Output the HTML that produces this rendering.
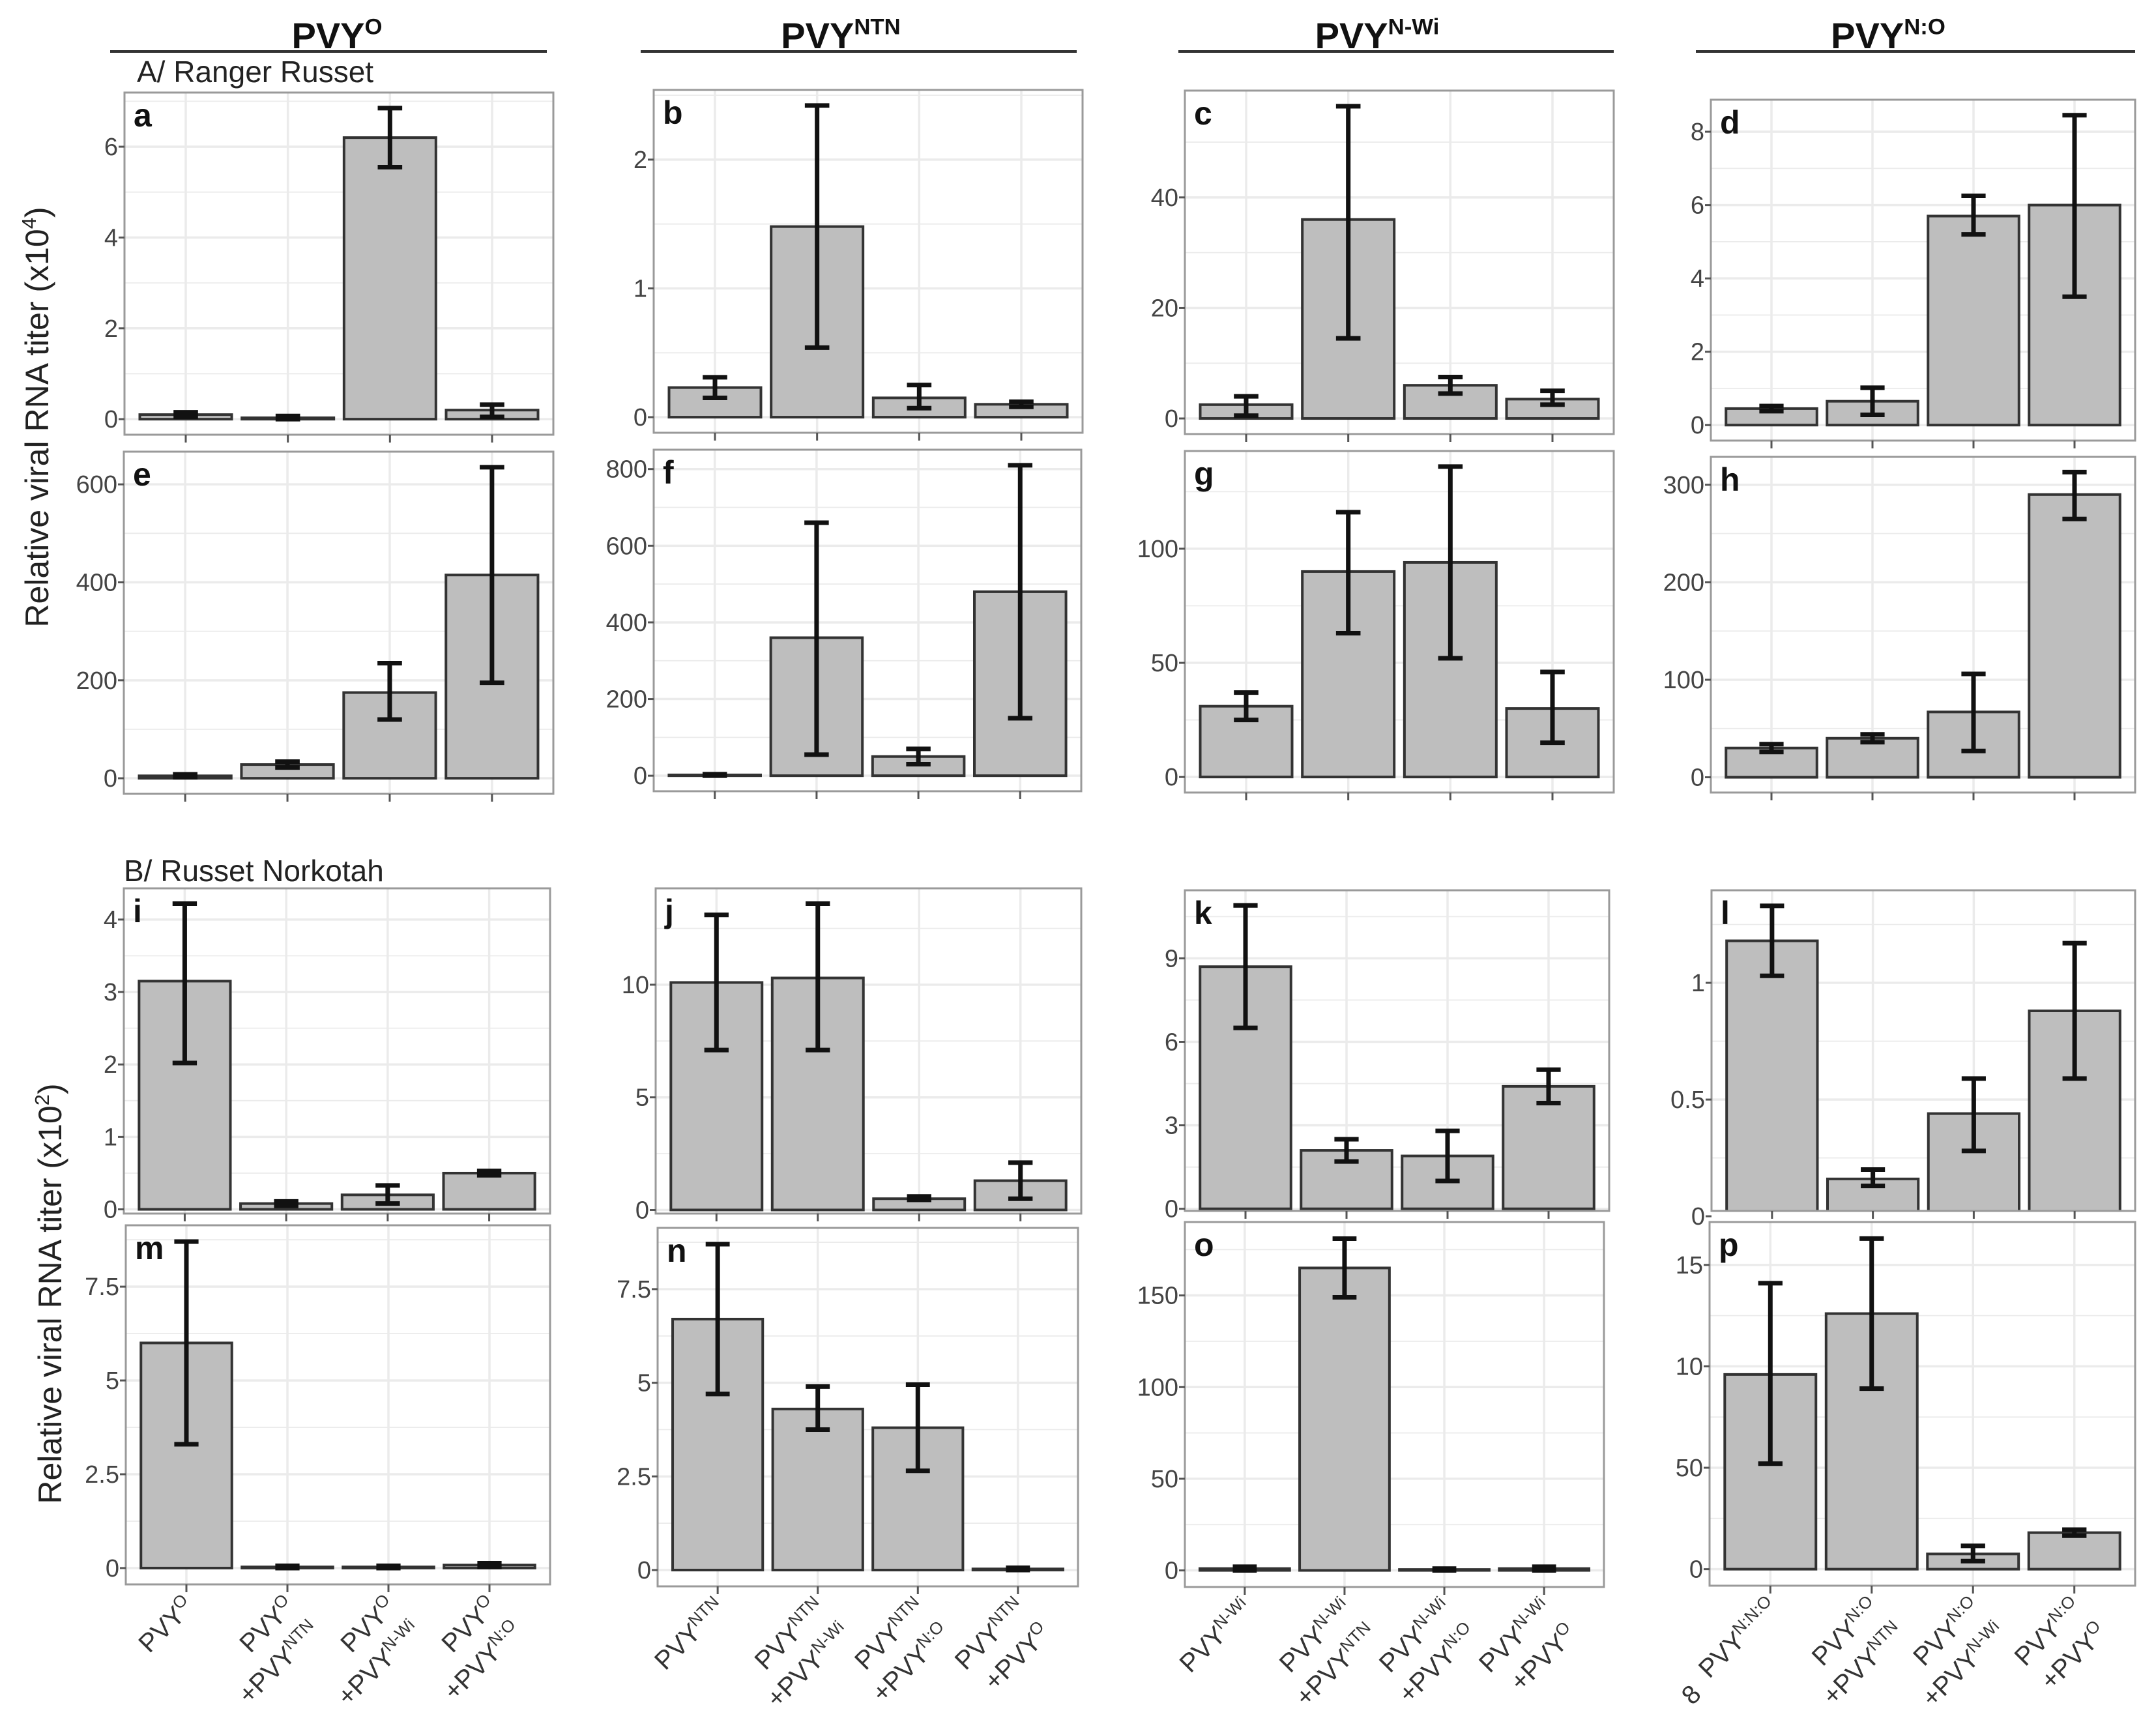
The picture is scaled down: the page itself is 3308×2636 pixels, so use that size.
<!DOCTYPE html>
<html><head><meta charset="utf-8"><style>
html,body{margin:0;padding:0;background:#fff;}
svg{display:block;font-family:"Liberation Sans",sans-serif;}
</style></head><body>
<svg id="fig" width="3308" height="2636" viewBox="0 0 3308 2636" xmlns="http://www.w3.org/2000/svg"></svg>
<script>
// ---- data ----
const aMeans=[0.1,0.03,6.2,0.2];   const aLow=[0.05,0,5.55,0.05];   const aHigh=[0.15,0.07,6.85,0.32];
const bMeans=[0.23,1.48,0.15,0.1]; const bLow=[0.15,0.54,0.07,0.08]; const bHigh=[0.31,2.42,0.25,0.12];
const cMeans=[2.5,36,6,3.5];       const cLow=[0.5,14.5,4.5,2.5];    const cHigh=[4,56.5,7.5,5];
const dMeans=[0.45,0.65,5.7,6.0];  const dLow=[0.38,0.28,5.2,3.5];   const dHigh=[0.52,1.02,6.25,8.45];
const eMeans=[5,28,175,415];       const eLow=[2,22,120,195];        const eHigh=[8,34,235,635];
const fMeans=[2,360,50,480];       const fLow=[0,55,30,150];         const fHigh=[4,660,70,810];
const gMeans=[31,90,94,30];        const gLow=[25,63,52,15];         const gHigh=[37,116,136,46];
const hMeans=[30,40,67,290];       const hLow=[26,36,27,265];        const hHigh=[34,44,106,313];
const iMeans=[3.15,0.08,0.2,0.5];  const iLow=[2.02,0.05,0.08,0.47]; const iHigh=[4.22,0.11,0.33,0.53];
const jMeans=[10.1,10.3,0.5,1.3];  const jLow=[7.1,7.1,0.45,0.5];    const jHigh=[13.1,13.6,0.6,2.1];
const kMeans=[8.7,2.1,1.9,4.4];    const kLow=[6.5,1.7,1.0,3.8];     const kHigh=[10.9,2.5,2.8,5.0];
const lMeans=[1.18,0.16,0.44,0.88];const lLow=[1.03,0.13,0.28,0.59]; const lHigh=[1.33,0.2,0.59,1.17];
const mMeans=[6.0,0.03,0.03,0.08]; const mLow=[3.3,0,0,0.03];        const mHigh=[8.7,0.06,0.06,0.13];
const nMeans=[6.7,4.3,3.8,0.03];   const nLow=[4.7,3.75,2.65,0];     const nHigh=[8.7,4.9,4.95,0.06];
const oMeans=[1,165,0.5,1];        const oLow=[0,149,0,0];           const oHigh=[2,181,1,2];
const pMeans=[96,126,7.5,18];      const pLow=[52,89,4,16.5];        const pHigh=[141,163,11.5,19.5];

const aTicks=[0,2,4,6];      const bTicks=[0,1,2];        const cTicks=[0,20,40];       const dTicks=[0,2,4,6,8];
const eTicks=[0,200,400,600];const fTicks=[0,200,400,600,800]; const gTicks=[0,50,100]; const hTicks=[0,100,200,300];
const iTicks=[0,1,2,3,4];    const jTicks=[0,5,10];       const kTicks=[0,3,6,9];       const lTicks=[0,0.5,1];
const mTicks=[0,2.5,5,7.5];  const nTicks=[0,2.5,5,7.5];  const oTicks=[0,50,100,150];  const pTicks=[0,50,100,150];
const pTickLabels=["0","50","10","15"];

const colTitles=[["PVY","O"],["PVY","NTN"],["PVY","N-Wi"],["PVY","N:O"]];
const xCats=[
 [[["PVY","O"]],[["PVY","O"],["+PVY","NTN"]],[["PVY","O"],["+PVY","N-Wi"]],[["PVY","O"],["+PVY","N:O"]]],
 [[["PVY","NTN"]],[["PVY","NTN"],["+PVY","N-Wi"]],[["PVY","NTN"],["+PVY","N:O"]],[["PVY","NTN"],["+PVY","O"]]],
 [[["PVY","N-Wi"]],[["PVY","N-Wi"],["+PVY","NTN"]],[["PVY","N-Wi"],["+PVY","N:O"]],[["PVY","N-Wi"],["+PVY","O"]]],
 [[["PVY","N:N:O"]],[["PVY","N:O"],["+PVY","NTN"]],[["PVY","N:O"],["+PVY","N-Wi"]],[["PVY","N:O"],["+PVY","O"]]]
];

// ---- layout (pixel positions) ----
const layout={
 a:[191,142,849,667],b:[1003,138,1661,664],c:[1818,139,2476,666],d:[2625,153,3276,676],
 e:[190,693,849,1218],f:[1003,690,1659,1214],g:[1818,692,2476,1216],h:[2625,701,3276,1216],
 i:[190,1363,844,1862,1879],j:[1006,1363,1659,1862,1880],k:[1818,1366,2469,1858,1878],l:[2626,1366,3276,1858,1890],
 m:[193,1880,844,2431],n:[1009,1884,1654,2434],o:[1818,1875,2461,2435],p:[2623,1875,3276,2433]
};
const panelData={a:[aMeans,aLow,aHigh,aTicks],b:[bMeans,bLow,bHigh,bTicks],c:[cMeans,cLow,cHigh,cTicks],d:[dMeans,dLow,dHigh,dTicks],
 e:[eMeans,eLow,eHigh,eTicks],f:[fMeans,fLow,fHigh,fTicks],g:[gMeans,gLow,gHigh,gTicks],h:[hMeans,hLow,hHigh,hTicks],
 i:[iMeans,iLow,iHigh,iTicks],j:[jMeans,jLow,jHigh,jTicks],k:[kMeans,kLow,kHigh,kTicks],l:[lMeans,lLow,lHigh,lTicks],
 m:[mMeans,mLow,mHigh,mTicks],n:[nMeans,nLow,nHigh,nTicks],o:[oMeans,oLow,oHigh,oTicks],p:[pMeans,pLow,pHigh,pTicks]};

const NS="http://www.w3.org/2000/svg";
const svg=document.getElementById('fig');
function mk(tag,attrs,parent){const e=document.createElementNS(NS,tag);for(const k in attrs)e.setAttribute(k,attrs[k]);(parent||svg).appendChild(e);return e;}
function supText(t,parts,size){
  const b=document.createElementNS(NS,'tspan');b.textContent=parts[0];t.appendChild(b);
  const s=document.createElementNS(NS,'tspan');s.setAttribute('font-size',size*0.62);s.setAttribute('dy',-size*0.38);s.textContent=parts[1];t.appendChild(s);
}

const titleCenters=[517,1290,2113,2897]; const lineSpans=[[169,839],[983,1652],[1808,2476],[2602,3276]];
colTitles.forEach((ct,i)=>{
  const ln=mk('line',{x1:lineSpans[i][0],x2:lineSpans[i][1],y1:79,y2:79,stroke:'#333','stroke-width':4});
  
  
  const t=mk('text',{x:titleCenters[i],y:74,'text-anchor':'middle','font-size':56,'font-weight':'bold',fill:'#111'});
  
  
  supText(t,ct,56);
});
let t=mk('text',{x:210,y:126,'font-size':46,fill:'#222'});t.textContent='A/ Ranger Russet';


t=mk('text',{x:190,y:1352,'font-size':46,fill:'#222'});t.textContent='B/ Russet Norkotah';


t=mk('text',{x:0,y:0,'font-size':50,fill:'#222','text-anchor':'middle',transform:'translate(74,640) rotate(-90)'});


supText(t,['Relative viral RNA titer (x10','4'],50);
{const s=document.createElementNS(NS,'tspan');s.setAttribute('dy',19);s.textContent=')';t.appendChild(s);}
t=mk('text',{x:0,y:0,'font-size':50,fill:'#222','text-anchor':'middle',transform:'translate(94,1985) rotate(-90)'});


supText(t,['Relative viral RNA titer (x10','2'],50);
{const s=document.createElementNS(NS,'tspan');s.setAttribute('dy',19);s.textContent=')';t.appendChild(s);}

const letters=Object.keys(layout);
letters.forEach((L)=>{
  const [x0,y0,x1,y1,vb]=layout[L]; const vbot=vb||y1;
  const [means,low,high,ticks]=panelData[L];
  const M=Math.max(...high); const hi=1.05*M, lo=-0.05*M;
  const ys=v=>vbot-(v-lo)/(hi-lo)*(vbot-y0);
  const bw=(x1-x0)/4.2; const xs=i=>x0+(i+0.6)*bw;
  const g=mk('g',{});
  
  
  const cid='clip'+L;
  const cp=mk('clipPath',{id:cid},g);mk('rect',{x:x0,y:y0,width:x1-x0,height:y1-y0},cp);
  const inner=mk('g',{'clip-path':'url(#'+cid+')'},g);
  const step=ticks[1]-ticks[0];
  for(let v=ticks[0]-step/2;v<=hi+step;v+=step/2){
    const major=ticks.some(tk=>Math.abs(tk-v)<1e-9);
    const gl=mk('line',{x1:x0,x2:x1,y1:ys(v),y2:ys(v),stroke:'#ebebeb','stroke-width':major?3.5:1.8},inner);
    
    
  }
  for(let i=0;i<4;i++){mk('line',{x1:xs(i),x2:xs(i),y1:y0,y2:y1,stroke:'#ebebeb','stroke-width':3.5},inner);}
  means.forEach((v,i)=>{
    const r=mk('rect',{x:xs(i)-0.45*bw,y:Math.min(ys(v),ys(0)),width:0.9*bw,height:Math.abs(ys(0)-ys(v)),fill:'#bebebe',stroke:'#333','stroke-width':4},inner);
    
    
  });
  means.forEach((v,i)=>{
    const cx=xs(i),cw=0.12*bw;
    const eb=mk('path',{d:`M${cx},${ys(low[i])}V${ys(high[i])}M${cx-cw},${ys(low[i])}H${cx+cw}M${cx-cw},${ys(high[i])}H${cx+cw}`,stroke:'#111','stroke-width':7,fill:'none'},inner);
    
    
  });
  const bd=mk('rect',{x:x0,y:y0,width:x1-x0,height:y1-y0,fill:'none',stroke:'#9a9a9a','stroke-width':3},g);
  
  
  ticks.forEach((v,ti)=>{
    const y=ys(v); if(y>y1+12)return;
    mk('line',{x1:x0-9,x2:x0,y1:y,y2:y,stroke:'#555','stroke-width':3},g);
    const tl=mk('text',{x:x0-10,y:y+13,'text-anchor':'end','font-size':38,fill:'#444'},g);
    tl.textContent=(L==='p')?pTickLabels[ti]:String(v);
    
    
  });
  for(let i=0;i<4;i++) mk('line',{x1:xs(i),x2:xs(i),y1:y1,y2:y1+12,stroke:'#555','stroke-width':3},g);
  const lt=mk('text',{x:x0+14,y:y0+52,'font-size':50,'font-weight':'bold',fill:'#111'},g);
  lt.textContent=L;
  
  
  if('mnop'.includes(L)){
    const col='mnop'.indexOf(L);
    xCats[col].forEach((lines,i)=>{
      const ax=xs(i)+14, ay=y1+36;
      const tx=mk('text',{x:0,y:0,'text-anchor':'end','font-size':40,fill:'#333',transform:`translate(${ax},${ay}) rotate(-45)`},g);
      
      
      lines.forEach((ln,k)=>{
        const b=document.createElementNS(NS,'tspan');b.setAttribute('x',0);b.setAttribute('dy',k===0?0:54);b.textContent=ln[0];tx.appendChild(b);
        const s=document.createElementNS(NS,'tspan');s.setAttribute('font-size',26);s.setAttribute('dy',-15);s.textContent=ln[1];tx.appendChild(s);
        const z=document.createElementNS(NS,'tspan');z.setAttribute('dy',15);z.textContent='\u200B';tx.appendChild(z);
      });
    });
    if(L==='p'){const e8=mk('text',{x:2585,y:2610,'font-size':40,fill:'#333',transform:'rotate(-45 2600 2600)'},g);e8.textContent='8';
      
      }
  }
});
</script>
</body></html>
